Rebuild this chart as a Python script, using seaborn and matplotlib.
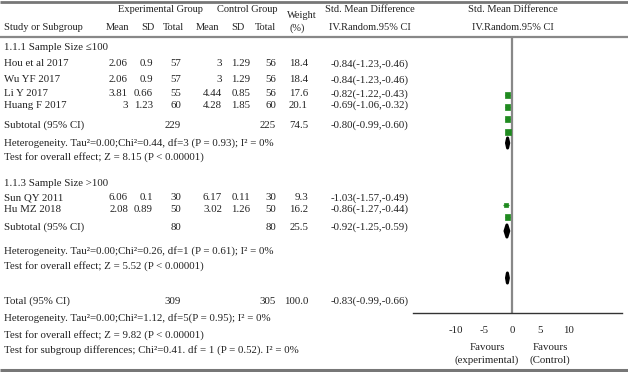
import matplotlib
matplotlib.use("Agg")
import matplotlib.pyplot as plt
import seaborn as sns
import pandas as pd
from matplotlib.patches import Polygon

# ---------------- data ----------------
studies = ["Hou et al 2017", "Wu YF 2017", "Li Y 2017", "Huang F 2017", "Sun QY 2011", "Hu MZ 2018"]
subgroup = ["g1", "g1", "g1", "g1", "g2", "g2"]
exp_mean = [2.06, 2.06, 3.81, 3, 6.06, 2.08]
exp_sd = [0.9, 0.9, 0.66, 1.23, 0.1, 0.89]
exp_n = [57, 57, 55, 60, 30, 50]
ctl_mean = [3, 3, 4.44, 4.28, 6.17, 3.02]
ctl_sd = [1.29, 1.29, 0.85, 1.85, 0.11, 1.26]
ctl_n = [56, 56, 56, 60, 30, 50]
weight = [18.4, 18.4, 17.6, 20.1, 9.3, 16.2]
smd = [-0.84, -0.84, -0.82, -0.69, -1.03, -0.86]
ci_lo = [-1.23, -1.23, -1.22, -1.06, -1.57, -1.27]
ci_hi = [-0.46, -0.46, -0.43, -0.32, -0.49, -0.44]

summary_labels = ["Subtotal (95% CI)", "Subtotal (95% CI)", "Total (95% CI)"]
summary_exp_n = [229, 80, 309]
summary_ctl_n = [225, 80, 305]
summary_weight = [74.5, 25.5, 100.0]
summary_smd = [-0.80, -0.92, -0.83]
summary_lo = [-0.99, -1.25, -0.99]
summary_hi = [-0.60, -0.59, -0.66]

group_titles = ["1.1.1 Sample Size \u2264100", "1.1.3 Sample Size >100"]
stat_lines = [
    ["Heterogeneity. Tau\u00b2=0.00;Chi\u00b2=0.44, df=3 (P = 0.93); I\u00b2 = 0%",
     "Test for overall effect; Z = 8.15 (P < 0.00001)"],
    ["Heterogeneity. Tau\u00b2=0.00;Chi\u00b2=0.26, df=1 (P = 0.61); I\u00b2 = 0%",
     "Test for overall effect; Z = 5.52 (P < 0.00001)"],
    ["Heterogeneity. Tau\u00b2=0.00;Chi\u00b2=1.12, df=5(P = 0.95); I\u00b2 = 0%",
     "Test for overall effect; Z = 9.82 (P < 0.00001)",
     "Test for subgroup differences; Chi\u00b2=0.41. df = 1 (P = 0.52). I\u00b2 = 0%"],
]
tick_values = [-10, -5, 0, 5, 10]

# ---------------- layout (pixel rows) ----------------
W, H = 628, 372
study_text_y = [64, 80, 94, 105, 198, 209]
study_mark_y = [95, 107, 119, 132, 205, 217]
title_y = [48, 183]
summary_text_y = [125, 227, 301]
summary_mark_y = [143, 231, 278]
stat_y = [[143, 157], [251, 266], [318, 335, 350]]

sns.set_theme(style="white")
plt.rcParams["font.family"] = ["Liberation Serif", "DejaVu Serif"]
FS = 7.8
HFS = 7.5
TXT = "#222222"

fig = plt.figure(figsize=(W / 100, H / 100), dpi=100)

# overlay axes in pixel coordinates for the table text
tx = fig.add_axes([0, 0, 1, 1])
tx.set_xlim(0, W)
tx.set_ylim(H, 0)
tx.axis("off")

def t(x, y, s, ha="left", fs=FS, **kw):
    tx.text(x, y, s, ha=ha, va="center", fontsize=fs, color=TXT, **kw)

# rules
tx.hlines(1.5, 0, W, color="#777777", lw=2.0)
tx.hlines(37, 0, W, color="#888888", lw=1.6)
tx.hlines(370, 0, W, color="#777777", lw=2.2)

# header
t(4, 28, "Study or Subgroup", fs=HFS)
t(160, 10, "Experimental Group", ha="center", fs=HFS)
t(247, 10, "Control Group", ha="center", fs=HFS)
t(302, 15, "Weight", ha="center", fs=HFS)
t(370, 10, "Std. Mean Difference", ha="center", fs=HFS)
t(513, 10, "Std. Mean Difference", ha="center", fs=HFS)
for xx, lab in zip([118, 148, 173, 208, 238, 265, 297, 370, 513],
                   ["Mean", "SD", "Total", "Mean", "SD", "Total", "(%)",
                    "IV.Random.95% CI", "IV.Random.95% CI"]):
    t(xx, 28, lab, ha="center", fs=HFS)

col_x = [128, 153, 181, 222, 250, 276, 308]
for i, name in enumerate(studies):
    y = study_text_y[i]
    t(4, y, name)
    vals = [f"{exp_mean[i]:g}", f"{exp_sd[i]:g}", f"{exp_n[i]}",
            f"{ctl_mean[i]:g}", f"{ctl_sd[i]:g}", f"{ctl_n[i]}", f"{weight[i]:.1f}"]
    for xx, v in zip(col_x, vals):
        t(xx, y, v, ha="right")
    t(331, y, f"{smd[i]:.2f}({ci_lo[i]:.2f},{ci_hi[i]:.2f})")

for g, ttl in enumerate(group_titles):
    t(4, title_y[g], ttl)

for k, lab in enumerate(summary_labels):
    y = summary_text_y[k]
    t(4, y, lab)
    t(col_x[2], y, f"{summary_exp_n[k]}", ha="right")
    t(col_x[5], y, f"{summary_ctl_n[k]}", ha="right")
    t(col_x[6], y, f"{summary_weight[k]:.1f}", ha="right")
    t(331, y, f"{summary_smd[k]:.2f}({summary_lo[k]:.2f},{summary_hi[k]:.2f})")

for k, lines in enumerate(stat_lines):
    for y, s in zip(stat_y[k], lines):
        t(4, y, s)

# ---------------- forest axes ----------------
x0_px, x1_px, ytop_px, ybot_px = 413, 622, 37, 313
ax = fig.add_axes([x0_px / W, (H - ybot_px) / H, (x1_px - x0_px) / W, (ybot_px - ytop_px) / H])
ax.set_xlim(-17.5, 19.4)
ax.set_ylim(ybot_px, ytop_px)
ax.patch.set_alpha(0)
for sp in ["top", "left", "right"]:
    ax.spines[sp].set_visible(False)
ax.spines["bottom"].set_color("#333333")
ax.spines["bottom"].set_linewidth(1.0)
ax.axvline(0, color="#888888", lw=1.6, zorder=1)

green = "#1f8a1f"
df = pd.DataFrame({"smd": smd, "y": study_mark_y, "w": weight, "lo": ci_lo, "hi": ci_hi})
ax.hlines(df["y"], df["lo"], df["hi"], color=green, lw=0.9, zorder=2)
sns.scatterplot(data=df, x="smd", y="y", size="w", sizes=(9, 18), marker="s",
                color=green, edgecolor=green, linewidth=0.5, legend=False, ax=ax, zorder=3)

for k in range(len(summary_smd)):
    y = summary_mark_y[k]
    h = 6 if k == 1 else 5
    poly = Polygon([(summary_lo[k], y), (summary_smd[k], y - h),
                    (summary_hi[k], y), (summary_smd[k], y + h)],
                   closed=True, facecolor="black", edgecolor="black", lw=2.2,
                   joinstyle="round", zorder=4)
    ax.add_patch(poly)

ax.set_xticks(tick_values)
ax.set_xticklabels([f"{v}" for v in tick_values], fontsize=FS, color=TXT)
ax.tick_params(axis="x", direction="inout", length=7, width=1.0, color="#333333", pad=6)
ax.set_yticks([])
ax.set_xlabel("")
ax.set_ylabel("")

t(487, 347, "Favours", ha="center")
t(487, 360, "(experimental)", ha="center")
t(550, 347, "Favours", ha="center")
t(550, 360, "(Control)", ha="center")

fig.savefig("out.png", dpi=100)
